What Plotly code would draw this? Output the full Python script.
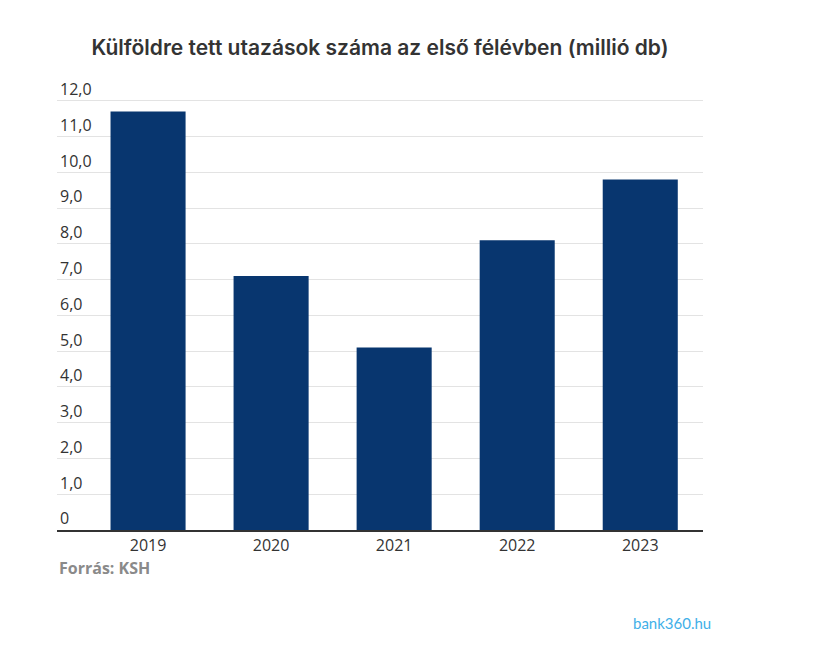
import plotly.graph_objects as go

# data
years = ["2019", "2020", "2021", "2022", "2023"]
trips_million = [11.7, 7.1, 5.1, 8.1, 9.8]
y_ticks = [0, 1, 2, 3, 4, 5, 6, 7, 8, 9, 10, 11, 12]
y_tick_labels = ["0", "1,0", "2,0", "3,0", "4,0", "5,0", "6,0",
                 "7,0", "8,0", "9,0", "10,0", "11,0", "12,0"]

fig = go.Figure()

fig.add_trace(go.Bar(
    x=years, y=trips_million,
    marker_color="#08366f",
    marker_line_width=0,
    hovertemplate="%{x}: %{y:.1f}<extra></extra>",
))

# page body adds an 8px offset, so margins are shifted to compensate
fig.update_layout(
    width=820, height=648,
    margin=dict(l=49, r=125, t=57.25, b=126),
    paper_bgcolor="white",
    plot_bgcolor="white",
    showlegend=False,
    bargap=0.39,
    font=dict(family="Open Sans", color="#333333", size=16),
    title=dict(
        text="Külföldre tett utazások száma az első félévben (millió db)",
        x=0.5, xref="paper", xanchor="center",
        y=1 - 40 / 648, yref="container", yanchor="middle",
        font=dict(family="Inter", size=21, color="#333333", weight=600),
    ),
)

fig.update_xaxes(
    type="category",
    range=[-0.74, 4.51],
    showline=True, linecolor="#333333", linewidth=1.5,
    ticks="", showgrid=False,
    tickfont=dict(size=16, color="#333333"),
)

# extra headroom above 12 so the top "inside" label is not hidden
fig.update_yaxes(
    range=[0, 13],
    tickvals=y_ticks, ticktext=y_tick_labels,
    ticklabelposition="inside top",
    showgrid=True, gridcolor="#e3e3e3", gridwidth=1,
    zeroline=False, showline=False, ticks="",
    tickfont=dict(size=16, color="#333333"),
)

fig.add_annotation(
    text="<b>Forrás: KSH</b>",
    xref="paper", yref="paper", x=0, y=-0.082,
    xanchor="left", yanchor="middle", showarrow=False,
    font=dict(family="Open Sans", size=16, color="#8a8a8a"),
)

fig.add_annotation(
    text="bank360.hu",
    xref="paper", yref="paper", x=1.015, y=-0.2,
    xanchor="right", yanchor="middle", showarrow=False,
    font=dict(family="Lato", size=15, color="#3fb0e8"),
)

fig.write_html("out.html")
